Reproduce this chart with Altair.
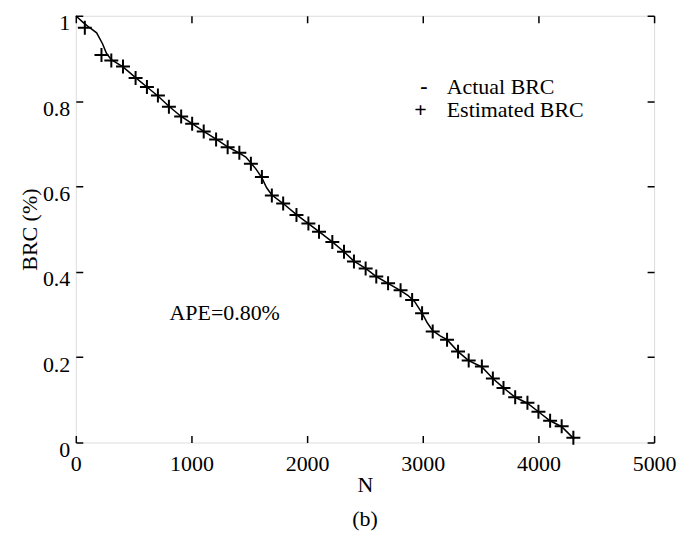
import altair as alt
import pandas as pd

# Actual BRC (solid line)
act_n = [0, 60, 120, 180, 230, 265, 307, 408, 517, 615, 710, 805, 911, 1006, 1106, 1213,
         1313, 1414, 1470, 1514, 1560, 1609, 1650, 1695, 1793, 1908, 2011, 2103, 2218, 2319,
         2405, 2506, 2598, 2700, 2808, 2870, 2930, 2994, 3040, 3086, 3150, 3210, 3305, 3397,
         3511, 3606, 3698, 3799, 3905, 4000, 4101, 4201, 4310]
act_brc = [1.0, 0.985, 0.972, 0.96, 0.935, 0.912, 0.897, 0.880, 0.855, 0.833, 0.812, 0.788,
           0.764, 0.747, 0.729, 0.711, 0.693, 0.678, 0.669, 0.655, 0.640, 0.620, 0.597, 0.580,
           0.560, 0.534, 0.513, 0.494, 0.470, 0.447, 0.425, 0.408, 0.389, 0.373, 0.356, 0.345,
           0.330, 0.303, 0.280, 0.262, 0.250, 0.241, 0.213, 0.192, 0.177, 0.150, 0.128, 0.106,
           0.092, 0.072, 0.051, 0.037, 0.008]

# Estimated BRC (+ markers)
est_n = [78, 222, 307, 408, 517, 615, 710, 805, 911, 1006, 1106, 1213, 1313, 1414, 1514,
         1609, 1695, 1793, 1908, 2011, 2103, 2218, 2319, 2405, 2506, 2598, 2700, 2808, 2908,
         2994, 3086, 3210, 3305, 3397, 3511, 3606, 3698, 3799, 3905, 4000, 4101, 4201, 4302]
est_brc = [0.972, 0.908, 0.895, 0.881, 0.854, 0.833, 0.813, 0.787, 0.764, 0.747, 0.729,
           0.710, 0.692, 0.679, 0.653, 0.622, 0.579, 0.560, 0.533, 0.513, 0.494, 0.470,
           0.447, 0.424, 0.408, 0.389, 0.373, 0.357, 0.334, 0.303, 0.260, 0.241, 0.213,
           0.192, 0.178, 0.150, 0.128, 0.106, 0.093, 0.072, 0.051, 0.038, 0.011]

# Annotations
ann_text = ["APE=0.80%", "Actual BRC", "Estimated BRC"]
ann_n = [810, 3207, 3207]
ann_brc = [0.287, 0.816, 0.762]
sym_text = ["-", "+"]
sym_n = [3009, 2980]
sym_brc = [0.818, 0.762]

x_ticks = [0, 1000, 2000, 3000, 4000, 5000]
y_ticks = [0, 0.2, 0.4, 0.6, 0.8, 1.0]

FONT = "Liberation Serif"
FS = 22

act_df = pd.DataFrame({"N": act_n, "BRC": act_brc})
est_df = pd.DataFrame({"N": est_n, "BRC": est_brc})
ann_df = pd.DataFrame({"N": ann_n, "BRC": ann_brc, "t": ann_text})
sym_df = pd.DataFrame({"N": sym_n, "BRC": sym_brc, "t": sym_text})

xs = alt.Scale(domain=[0, 5000], nice=False, zero=False)
ys = alt.Scale(domain=[0, 1], nice=False, zero=False)

common = dict(domain=False, grid=False, ticks=True, tickSize=7, offset=-7,
              tickColor="black", tickWidth=1.5, labelFont=FONT, labelFontSize=FS,
              labelColor="black", titleFont=FONT, titleFontSize=FS, titleColor="black",
              titleFontWeight="normal", labelFlush=False)

x_bottom = alt.Axis(values=x_ticks, format="d", title="N", labelPadding=11,
                    titlePadding=0, orient="bottom", **common)
y_left = alt.Axis(values=y_ticks, format="~g", title="BRC (%)", labelPadding=6,
                  labelBaseline="top", labelOffset=-3, titlePadding=1, orient="left",
                  **common)
x_top = alt.Axis(values=x_ticks, labels=False, title=None, orient="top", **common)
y_right = alt.Axis(values=y_ticks, labels=False, title=None, orient="right", **common)

line = alt.Chart(act_df).mark_line(color="black", strokeWidth=1.5).encode(
    x=alt.X("N:Q", scale=xs, axis=x_bottom),
    y=alt.Y("BRC:Q", scale=ys, axis=y_left),
)
points = alt.Chart(est_df).mark_point(
    shape="M-1,0L1,0M0,-1L0,1", size=196, filled=False, color="black",
    strokeWidth=2, opacity=1
).encode(x="N:Q", y="BRC:Q")
ann = alt.Chart(ann_df).mark_text(
    font=FONT, fontSize=FS, align="left", baseline="alphabetic", color="black"
).encode(x="N:Q", y="BRC:Q", text="t:N")
sym = alt.Chart(sym_df).mark_text(
    font=FONT, fontSize=FS, align="center", baseline="alphabetic", color="black",
    fontWeight="bold"
).encode(x="N:Q", y="BRC:Q", text="t:N")

main = alt.layer(line, points, ann, sym)

mirror = alt.Chart(act_df).mark_line(opacity=0).encode(
    x=alt.X("N:Q", scale=xs, axis=x_top),
    y=alt.Y("BRC:Q", scale=ys, axis=y_right),
)

chart = alt.layer(main, mirror).resolve_scale(x="independent", y="independent").properties(
    width=580, height=428,
    padding={"left": 68, "top": 7, "right": 30, "bottom": 100},
    autosize=alt.AutoSizeParams(type="none"),
    title=alt.TitleParams("(b)", orient="bottom", font=FONT, fontSize=FS,
                          fontWeight="normal", color="black", offset=14,
                          anchor="middle", frame="group"),
).configure_view(stroke="black", strokeWidth=2).configure(background="white")

chart.save("out.html", embed_options={"renderer": "svg", "actions": False})
